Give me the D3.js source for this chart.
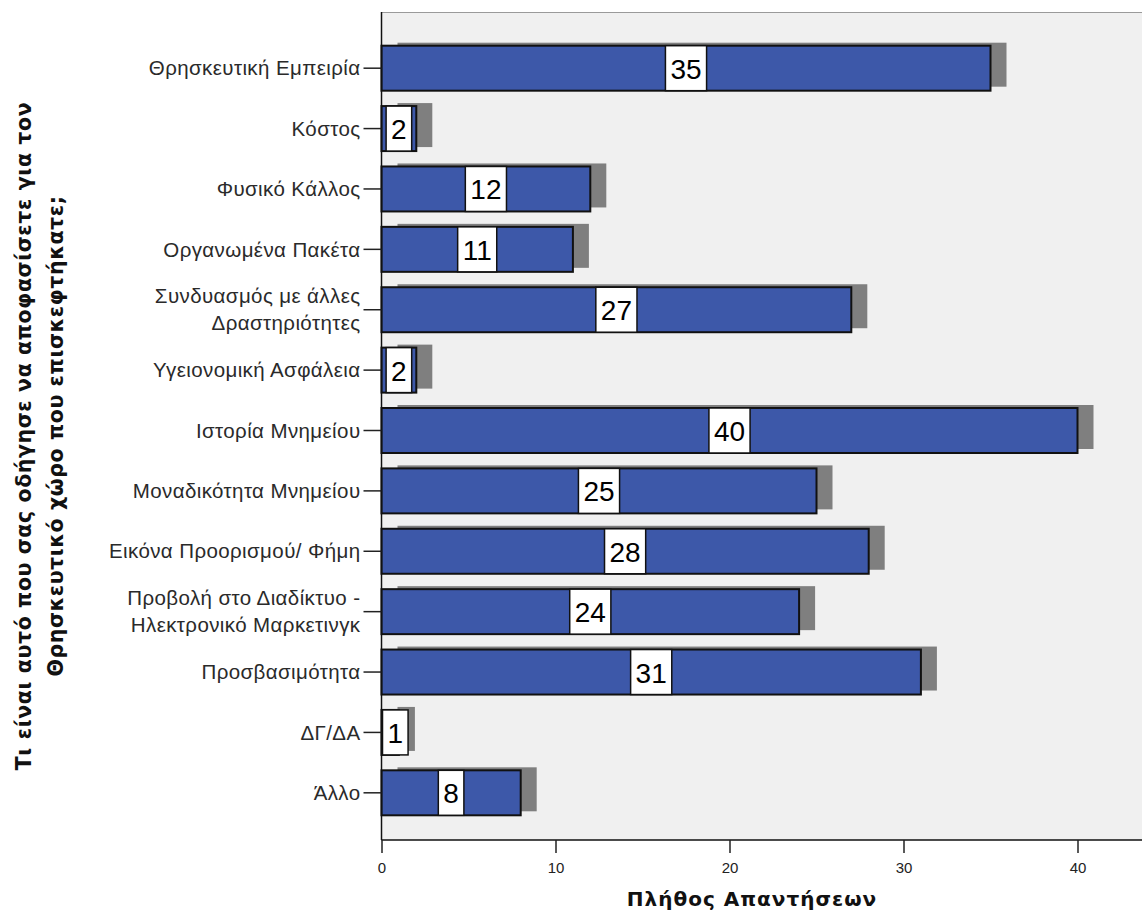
<!DOCTYPE html>
<html>
<head>
<meta charset="utf-8">
<script src="https://cdn.jsdelivr.net/npm/d3@7"></script>
<style>
  html, body { margin: 0; padding: 0; background: #ffffff; }
  svg { display: block; }
</style>
</head>
<body>
<svg id="chart" width="1142" height="919"></svg>
<script>
// ---- data ----
const categories = [
  "Θρησκευτική Εμπειρία",
  "Κόστος",
  "Φυσικό Κάλλος",
  "Οργανωμένα Πακέτα",
  "Συνδυασμός με άλλες\nΔραστηριότητες",
  "Υγειονομική Ασφάλεια",
  "Ιστορία Μνημείου",
  "Μοναδικότητα Μνημείου",
  "Εικόνα Προορισμού/ Φήμη",
  "Προβολή στο Διαδίκτυο -\nΗλεκτρονικό Μαρκετινγκ",
  "Προσβασιμότητα",
  "ΔΓ/ΔΑ",
  "Άλλο"
];
const counts = [35, 2, 12, 11, 27, 2, 40, 25, 28, 24, 31, 1, 8];
const xTicks = [0, 10, 20, 30, 40];
const xTitle = "Πλήθος Απαντήσεων";
const yTitleLines = [
  "Τι είναι αυτό που σας οδήγησε να αποφασίσετε για τον",
  "Θρησκευτικό χώρο που επισκεφτήκατε;"
];

// ---- layout ----
const svg = d3.select("#chart");
const plot = { left: 381.5, right: 1142, top: 12, bottom: 840 };

const x = d3.scaleLinear()
  .domain([0, (plot.right - plot.left) / 17.4])
  .range([plot.left, plot.right]);

const y = d3.scaleBand()
  .domain(categories)
  .range([38, 823])
  .paddingInner(0.255)
  .paddingOuter(0.1275);

// plot background
svg.append("rect")
  .attr("x", plot.left).attr("y", plot.top)
  .attr("width", plot.right - plot.left).attr("height", plot.bottom - plot.top)
  .attr("fill", "#f0f0f0");
svg.append("line")
  .attr("x1", plot.left).attr("x2", plot.right)
  .attr("y1", plot.top + 0.5).attr("y2", plot.top + 0.5)
  .attr("stroke", "#9a9a9a").attr("stroke-width", 1);

// shadows
svg.append("g").selectAll("rect")
  .data(counts)
  .join("rect")
  .attr("x", (d) => x(0) + 16)
  .attr("y", (d, i) => y(categories[i]) - 3)
  .attr("width", (d) => x(d) - x(0))
  .attr("height", y.bandwidth() - 1)
  .attr("fill", "#7f7f7f");

// bars
svg.append("g").selectAll("rect")
  .data(counts)
  .join("rect")
  .attr("x", x(0))
  .attr("y", (d, i) => y(categories[i]))
  .attr("width", (d) => x(d) - x(0))
  .attr("height", y.bandwidth())
  .attr("fill", "#3d58a9")
  .attr("stroke", "#111111")
  .attr("stroke-width", 2);

// value labels
const labelFont = "28px 'Liberation Sans', Arial, sans-serif";
const lg = svg.append("g");
counts.forEach((d, i) => {
  const t = lg.append("text")
    .style("font", labelFont)
    .attr("fill", "#000")
    .attr("text-anchor", "middle")
    .attr("dominant-baseline", "central")
    .text(d);
  const w = t.node().getComputedTextLength() + 10;
  let cx = (x(0) + x(d)) / 2;
  if (cx - w / 2 < x(0) + 1) cx = x(0) + 1 + w / 2;
  const top = y(categories[i]);
  lg.insert("rect", "text")
    .attr("x", cx - w / 2).attr("y", top)
    .attr("width", w).attr("height", y.bandwidth())
    .attr("fill", "#ffffff").attr("stroke", "#111111").attr("stroke-width", 1.5);
  t.attr("x", cx).attr("y", top + y.bandwidth() / 2 + 1);
});

// y axis
const yAxis = svg.append("g")
  .attr("transform", `translate(${plot.left},0)`)
  .call(d3.axisLeft(y).tickSize(18).tickPadding(4).tickFormat(() => ""));
yAxis.select(".domain").attr("stroke", "#111").attr("stroke-width", 1.5)
  .attr("d", `M0,${plot.top}V${plot.bottom}`);
yAxis.selectAll(".tick line").attr("stroke", "#222").attr("stroke-width", 1.5);
yAxis.selectAll(".tick").each(function (c) {
  const lines = c.split("\n");
  const t = d3.select(this).append("text")
    .attr("x", -21)
    .attr("fill", "#2a2a2a")
    .attr("text-anchor", "end")
    .style("font", "20.5px 'Liberation Sans', Arial, sans-serif")
    .style("letter-spacing", "0.4px");
  const lh = 27;
  lines.forEach((ln, k) => {
    t.append("tspan")
      .attr("x", -21)
      .attr("y", (k - (lines.length - 1) / 2) * lh)
      .attr("dy", "0.35em")
      .text(ln);
  });
});

// x axis
const xAxis = svg.append("g")
  .attr("transform", `translate(0,${plot.bottom})`)
  .call(d3.axisBottom(x).tickValues(xTicks).tickSize(13).tickPadding(9));
xAxis.select(".domain").attr("stroke", "#111").attr("stroke-width", 1.5)
  .attr("d", `M${plot.left},0H${plot.right}`);
xAxis.selectAll(".tick line").attr("stroke", "#222").attr("stroke-width", 1.5);
xAxis.selectAll(".tick text")
  .attr("fill", "#222")
  .style("font", "15px 'Liberation Sans', Arial, sans-serif");

// axis titles
svg.append("text")
  .attr("x", 752).attr("y", 906)
  .attr("text-anchor", "middle")
  .attr("fill", "#111")
  .style("font", "bold 20px 'DejaVu Sans', Verdana, sans-serif")
  .style("letter-spacing", "1px")
  .text(xTitle);

const yt = svg.append("text")
  .attr("transform", "translate(0,436) rotate(-90)")
  .attr("text-anchor", "middle")
  .attr("fill", "#111")
  .style("font", "bold 20.5px 'DejaVu Sans', Verdana, sans-serif")
  .style("letter-spacing", "0.6px");
yTitleLines.forEach((ln, k) => {
  yt.append("tspan").attr("x", 0).attr("y", 31 + k * 32).text(ln);
});
</script>
</body>
</html>
